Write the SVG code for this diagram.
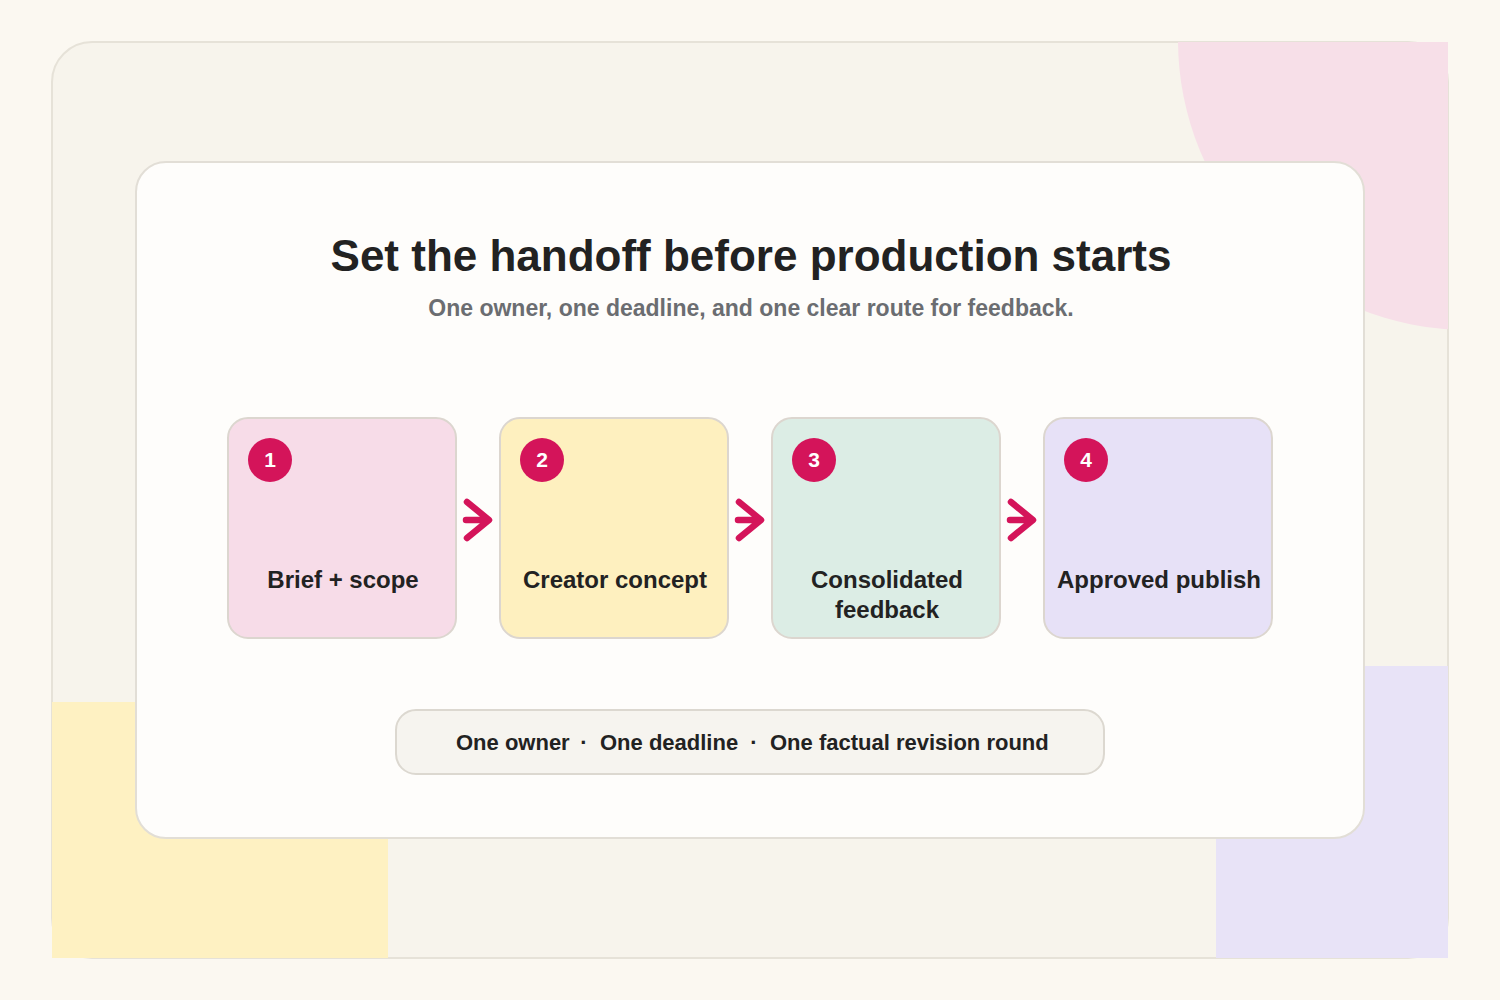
<svg xmlns="http://www.w3.org/2000/svg" width="1500" height="1000" viewBox="0 0 1500 1000">
<defs>
<clipPath id="frameClip"><rect x="52" y="42" width="1396" height="916"/></clipPath>
<style>
.node{stroke:#dcd6cf;stroke-width:2}
.badge{fill:#d4145a}
.num{font-family:"Liberation Sans",Arial,sans-serif;font-weight:700;font-size:21px;fill:#fff;text-anchor:middle}
.lbl{font-family:"Liberation Sans",Arial,sans-serif;font-weight:700;font-size:24px;fill:#222;text-anchor:middle}
.arrow{fill:none;stroke:#d4145a;stroke-width:6.5;stroke-linecap:round;stroke-linejoin:round}
</style>
</defs>
<rect x="0" y="0" width="1500" height="1000" fill="#fbf8f1"/>
<rect x="52" y="42" width="1396" height="916" rx="40" fill="#f7f4ec" stroke="#e6e2d8" stroke-width="2"/>
<g clip-path="url(#frameClip)">
<circle cx="1468" cy="40" r="290" fill="#f7dfe8"/>
</g>
<rect x="52" y="702" width="336" height="256" fill="#fef1c2"/>
<rect x="1216" y="666" width="232" height="292" fill="#e8e3f7"/>
<rect x="136" y="162" width="1228" height="676" rx="30" fill="#fefdfb" stroke="#e2ded6" stroke-width="2"/>
<text x="751" y="271" font-family="'Liberation Sans',Arial,sans-serif" font-weight="700" font-size="44" fill="#222" text-anchor="middle">Set the handoff before production starts</text>
<text x="751" y="316" font-family="'Liberation Sans',Arial,sans-serif" font-weight="700" font-size="23" fill="#6b6d71" text-anchor="middle">One owner, one deadline, and one clear route for feedback.</text>
<g id="connectors">
<path class="arrow" d="M467 502 L489 520 L467 538 M466 520 L488 520"/>
<path class="arrow" d="M739 502 L761 520 L739 538 M738 520 L760 520"/>
<path class="arrow" d="M1011 502 L1033 520 L1011 538 M1010 520 L1032 520"/>
</g>
<g id="node1">
<rect class="node" x="228" y="418" width="228" height="220" rx="20" fill="#f7dce8"/>
<circle class="badge" cx="270" cy="460" r="22"/>
<text class="num" x="270" y="467">1</text>
<text class="lbl" x="343" y="588">Brief + scope</text>
</g>
<g id="node2">
<rect class="node" x="500" y="418" width="228" height="220" rx="20" fill="#fef0bf"/>
<circle class="badge" cx="542" cy="460" r="22"/>
<text class="num" x="542" y="467">2</text>
<text class="lbl" x="615" y="588">Creator concept</text>
</g>
<g id="node3">
<rect class="node" x="772" y="418" width="228" height="220" rx="20" fill="#dcede5"/>
<circle class="badge" cx="814" cy="460" r="22"/>
<text class="num" x="814" y="467">3</text>
<text class="lbl" x="887" y="588">Consolidated</text>
<text class="lbl" x="887" y="618">feedback</text>
</g>
<g id="node4">
<rect class="node" x="1044" y="418" width="228" height="220" rx="20" fill="#e7e1f7"/>
<circle class="badge" cx="1086" cy="460" r="22"/>
<text class="num" x="1086" y="467">4</text>
<text class="lbl" x="1159" y="588">Approved publish</text>
</g>
<g id="rules">
<rect x="396" y="710" width="708" height="64" rx="20" fill="#f6f4ef" stroke="#dcd8d0" stroke-width="2"/>
<text y="750" font-family="'Liberation Sans',Arial,sans-serif" font-weight="700" font-size="22" fill="#222"><tspan x="456">One owner</tspan><tspan x="584" text-anchor="middle">·</tspan><tspan x="600">One deadline</tspan><tspan x="754" text-anchor="middle">·</tspan><tspan x="770">One factual revision round</tspan></text>
</g>
</svg>
